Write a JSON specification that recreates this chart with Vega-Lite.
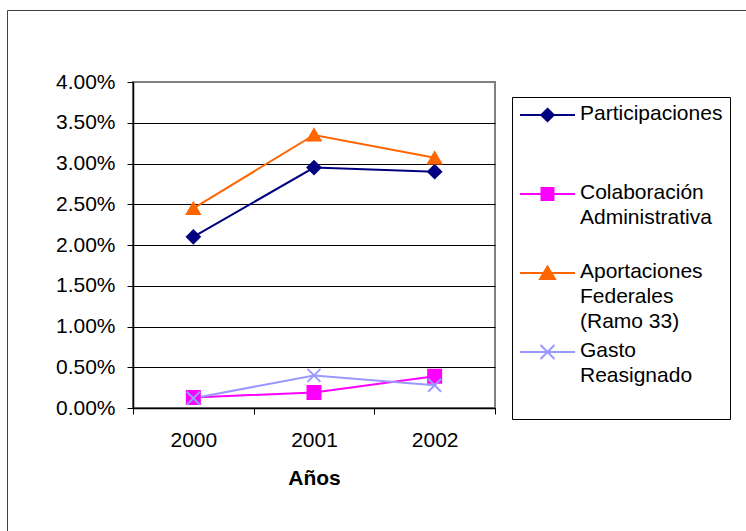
{
  "$schema": "https://vega.github.io/schema/vega-lite/v6.json",
  "width": 362,
  "height": 326,
  "autosize": {"type": "none"},
  "padding": {"left": 133, "top": 82, "right": 251, "bottom": 123},
  "background": "white",
  "config": {
    "font": "Liberation Sans",
    "view": {"stroke": "#808080", "strokeWidth": 2}
  },
  "data": {
    "values": [
      {"series": "Participaciones", "year": "2000", "value": 0.0210},
      {"series": "Participaciones", "year": "2001", "value": 0.0295},
      {"series": "Participaciones", "year": "2002", "value": 0.0290},
      {"series": "Colaboración Administrativa", "year": "2000", "value": 0.0013},
      {"series": "Colaboración Administrativa", "year": "2001", "value": 0.0019},
      {"series": "Colaboración Administrativa", "year": "2002", "value": 0.0039},
      {"series": "Aportaciones Federales (Ramo 33)", "year": "2000", "value": 0.0245},
      {"series": "Aportaciones Federales (Ramo 33)", "year": "2001", "value": 0.0335},
      {"series": "Aportaciones Federales (Ramo 33)", "year": "2002", "value": 0.0307},
      {"series": "Gasto Reasignado", "year": "2000", "value": 0.0012},
      {"series": "Gasto Reasignado", "year": "2001", "value": 0.0040},
      {"series": "Gasto Reasignado", "year": "2002", "value": 0.0028}
    ]
  },
  "encoding": {
    "x": {
      "field": "year",
      "type": "ordinal",
      "scale": {"type": "band", "paddingInner": 0, "paddingOuter": 0},
      "axis": {
        "title": "Años",
        "titleFontSize": 21,
        "titleFontWeight": "bold",
        "titleColor": "black",
        "titlePadding": 17,
        "labelAngle": 0,
        "labelFontSize": 21,
        "labelColor": "black",
        "labelPadding": 15,
        "tickBand": "extent",
        "tickSize": 6,
        "tickColor": "black",
        "domainColor": "black",
        "domainWidth": 1.5,
        "grid": false
      }
    },
    "y": {
      "field": "value",
      "type": "quantitative",
      "scale": {"domain": [0, 0.04], "nice": false},
      "axis": {
        "title": null,
        "format": ".2%",
        "values": [0, 0.005, 0.01, 0.015, 0.02, 0.025, 0.03, 0.035, 0.04],
        "labelFontSize": 21,
        "labelColor": "black",
        "labelPadding": 12,
        "tickSize": 6,
        "tickColor": "black",
        "domainColor": "black",
        "domainWidth": 1.5,
        "grid": true,
        "gridColor": {"condition": {"test": "datum.value >= 0.04", "value": "#808080"}, "value": "black"},
        "gridWidth": 1
      }
    },
    "color": {
      "field": "series",
      "type": "nominal",
      "scale": {
        "domain": ["Participaciones", "Colaboración Administrativa", "Aportaciones Federales (Ramo 33)", "Gasto Reasignado"],
        "range": ["#000080", "#FF00FF", "#FF6600", "#9999FF"]
      },
      "legend": {
        "orient": "none",
        "legendX": 379,
        "legendY": 15,
        "title": null,
        "strokeColor": "black",
        "fillColor": "white",
        "padding": 7.5,
        "labelFontSize": 21,
        "labelColor": "black",
        "labelOffset": 22,
        "labelBaseline": "top",
        "labelLimit": 300,
        "rowPadding": 7,
        "symbolSize": 16,
        "symbolOffset": 17.5,
        "symbolStrokeWidth": 2,
        "labelExpr": "datum.label == 'Participaciones' ? ['Participaciones', '', ''] : datum.label == 'Colaboración Administrativa' ? ['Colaboración', 'Administrativa', ''] : datum.label == 'Gasto Reasignado' ? ['Gasto', 'Reasignado', ''] : ['Aportaciones', 'Federales', '(Ramo 33)']",
        "encode": {
          "symbols": {
            "update": {
              "shape": {"signal": "datum.value == 'Participaciones' ? 'M-13.75,0H13.75M0,-3.1L3.1,0L0,3.1L-3.1,0Z' : datum.value == 'Colaboración Administrativa' ? 'M-13.75,0H-3M3,0H13.75M-3,-3H3V3H-3Z' : datum.value == 'Gasto Reasignado' ? 'M-13.75,0H13.75M-3.5,-3.5L3.5,3.5M-3.5,3.5L3.5,-3.5' : 'M-13.75,0H13.75M0,-3.3L3.7,3L-3.7,3Z'"},
              "fill": {"signal": "scale('color', datum.value)"},
              "stroke": {"signal": "scale('color', datum.value)"},
              "strokeWidth": {"value": 2},
              "opacity": {"value": 1}
            }
          },
          "labels": {
            "update": {
              "dy": {"value": -12},
              "lineHeight": {"value": 25}
            }
          }
        }
      }
    }
  },
  "layer": [
    {"mark": {"type": "line", "strokeWidth": 2}},
    {
      "mark": {
        "type": "point",
        "filled": true,
        "size": 169,
        "strokeWidth": 2,
        "shape": {"expr": "datum.series == 'Participaciones' ? 'diamond' : datum.series == 'Colaboración Administrativa' ? 'square' : datum.series == 'Gasto Reasignado' ? 'M-1,-1L1,1M-1,1L1,-1' : 'triangle-up'"}
      },
      "encoding": {
        "stroke": {
          "field": "series",
          "type": "nominal",
          "scale": {
            "domain": ["Participaciones", "Colaboración Administrativa", "Aportaciones Federales (Ramo 33)", "Gasto Reasignado"],
            "range": ["#000080", "#FF00FF", "#FF6600", "#9999FF"]
          },
          "legend": null
        },
        "opacity": {
          "field": "year",
          "type": "nominal",
          "scale": {"domain": ["2000", "2001", "2002"], "range": [1, 1, 1]},
          "legend": {
            "orient": "none",
            "legendX": -126,
            "legendY": -72,
            "title": null,
            "padding": 600,
            "strokeColor": "#404040",
            "symbolOpacity": 0,
            "labelOpacity": 0,
            "labelExpr": "''",
            "encode": {
              "legend": {"update": {"strokeWidth": {"value": 2}}},
              "symbols": {"update": {"opacity": {"value": 0}, "size": {"value": 0}}},
              "labels": {"update": {"opacity": {"value": 0}}}
            }
          }
        }
      }
    }
  ]
}
